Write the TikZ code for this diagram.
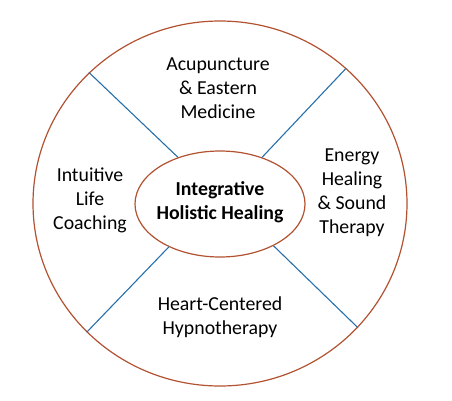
\documentclass[tikz,border=0pt]{standalone}
\usepackage{fontspec}
\setmainfont{Carlito}
\usetikzlibrary{shapes.geometric}
\definecolor{ringbrown}{RGB}{178,82,48}
\definecolor{spokeblue}{RGB}{38,112,172}
\tikzset{
  ring/.style={draw=ringbrown, line width=1.2pt, ellipse, inner sep=0pt},
  spoke/.style={draw=spokeblue, line width=1.1pt},
  label/.style={align=center, font=\fontsize{19.8}{24}\selectfont, text=black, inner sep=0pt}
}
\begin{document}
\begin{tikzpicture}[x=1pt,y=-1pt]
\useasboundingbox (0,0) rectangle (452,400);
\node[ring, minimum width=374pt, minimum height=365pt] (outer) at (220,203.5) {};
\node[ring, minimum width=170pt, minimum height=106pt, fill=white] (inner) at (220,204) {};
\draw[spoke] (outer.135.6) -- (inner.132.4);
\draw[spoke] (outer.47.4) -- (inner.48.2);
\draw[spoke] (outer.224.6) -- (inner.220.8);
\draw[spoke] (outer.318.7) -- (inner.322);
\node[label, font=\fontsize{19.8}{24}\selectfont\bfseries] (center) at (220,202) {Integrative\\Holistic Healing};
\node[label] (acu) at (218,88) {Acupuncture\\\& Eastern\\Medicine};
\node[label] (life) at (90,200) {Intuitive\\Life\\Coaching};
\node[label] (energy) at (352,193) {Energy\\Healing\\\& Sound\\Therapy};
\node[label] (heart) at (220,317) {Heart-Centered\\Hypnotherapy};
\end{tikzpicture}
\end{document}
